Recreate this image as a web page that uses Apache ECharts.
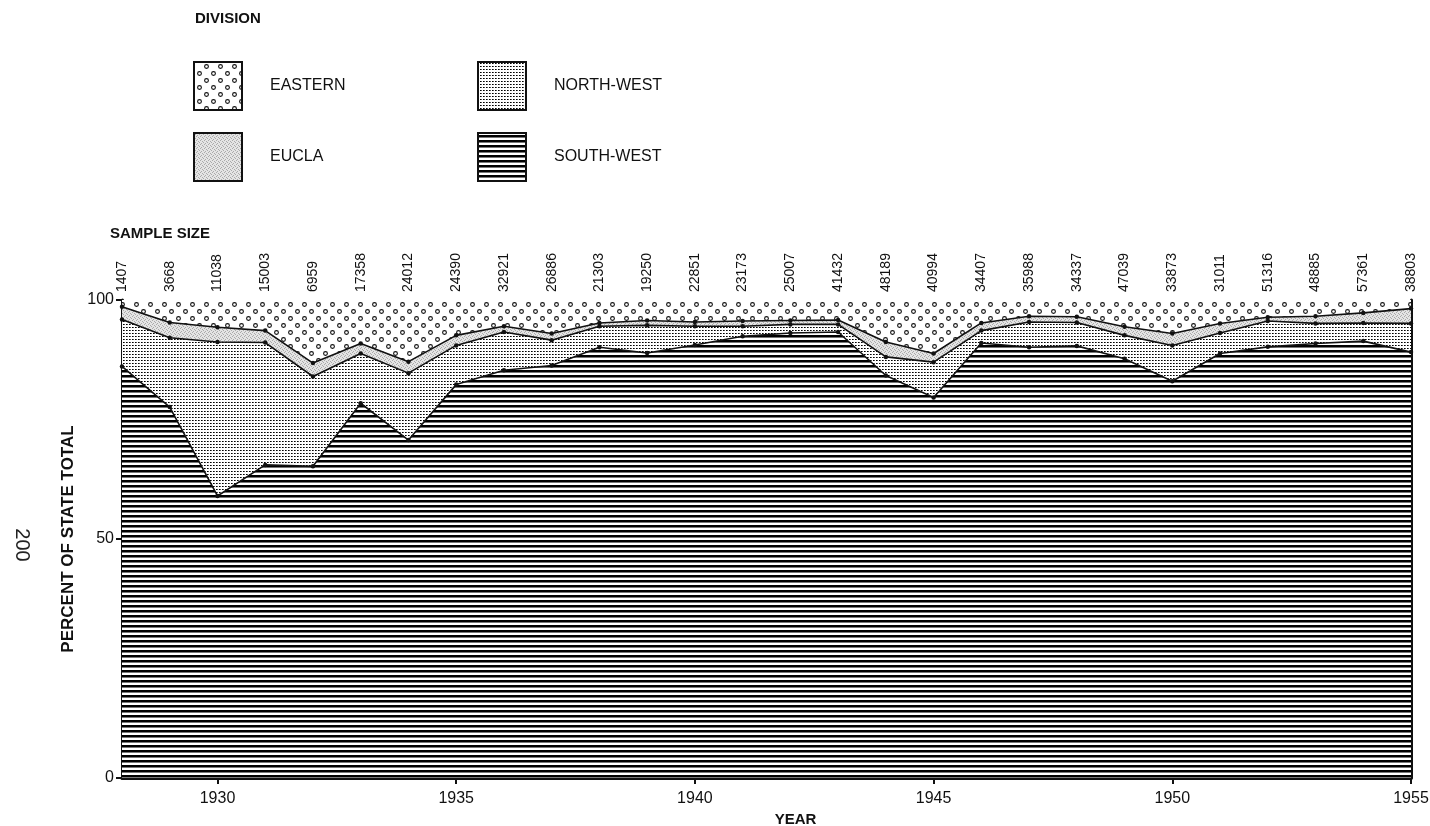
<!DOCTYPE html>
<html><head><meta charset="utf-8">
<script src="https://cdn.jsdelivr.net/npm/echarts@6/dist/echarts.min.js"></script>
<style>html,body{margin:0;padding:0;background:#fff}#c{width:1430px;height:826px}</style>
</head><body><div id="c"></div>
<script>
// ---------------- DATA ----------------
const years = ['1928','1929','1930','1931','1932','1933','1934','1935','1936','1937','1938','1939','1940','1941','1942','1943','1944','1945','1946','1947','1948','1949','1950','1951','1952','1953','1954','1955'];
const sampleSize = ['1407','3668','11038','15003','6959','17358','24012','24390','32921','26886','21303','19250','22851','23173','25007','41432','48189','40994','34407','35988','34337','47039','33873','31011','51316','48885','57361','38803'];
// percent of state total (stacked bottom to top)
const southWest = [86.1,77.6,59.0,65.5,65.2,78.4,70.7,82.3,85.3,86.3,90.1,88.9,90.6,92.4,93.1,93.3,84.2,79.6,91.0,90.1,90.4,87.7,83.0,88.8,90.2,90.9,91.4,89.1];
const northWest = [9.8,14.5,32.2,25.6,18.8,10.4,14.0,8.2,8.0,5.3,4.4,5.8,3.9,2.1,1.8,1.6,3.9,7.4,2.6,5.3,4.9,4.9,7.5,4.3,5.4,4.2,3.8,6.0];
const eucla = [2.7,3.2,3.1,2.5,2.8,2.1,2.4,2.1,1.2,1.4,0.7,1.0,0.9,1.1,0.8,0.9,3.1,1.8,1.6,1.2,1.2,1.8,2.5,2.0,0.8,1.5,2.1,3.1];
const eastern = [1.4,4.7,5.7,6.4,13.2,9.1,12.9,7.4,5.5,7.0,4.8,4.3,4.6,4.4,4.3,4.2,8.8,11.2,4.8,3.4,3.5,5.6,7.0,4.9,3.6,3.4,2.7,1.8];
const yTicks = [0, 50, 100];
const seriesNames = ['SOUTH-WEST','NORTH-WEST','EUCLA','EASTERN'];

// ---------------- PATTERNS ----------------
function makePattern(w, h, draw) {
  const c = document.createElement('canvas'); c.width = w; c.height = h;
  const g = c.getContext('2d'); g.fillStyle = '#fff'; g.fillRect(0, 0, w, h); draw(g);
  return { image: c, repeat: 'repeat' };
}
const patSW = makePattern(8, 5, g => { g.fillStyle = '#000'; g.fillRect(0, 0, 8, 2); g.fillStyle = '#777'; g.fillRect(0, 2, 8, 1); });
const patNW = makePattern(6, 6, g => { g.fillStyle = '#000';
  g.fillRect(0, 0, 1, 1); g.fillRect(3, 0, 1, 1); g.fillRect(0, 3, 1, 1); g.fillRect(3, 3, 1, 1);
  g.fillStyle = '#555'; g.fillRect(1, 0, 1, 1); g.fillRect(4, 0, 1, 1); g.fillRect(1, 3, 1, 1); g.fillRect(4, 3, 1, 1); });
const patEu = makePattern(4, 4, g => { g.fillStyle = '#e4e4e4'; g.fillRect(0, 0, 4, 4); g.fillStyle = '#aaa';
  g.fillRect(0, 0, 1, 1); g.fillRect(2, 1, 1, 1); g.fillRect(1, 3, 1, 1); g.fillRect(3, 2, 1, 1); });
const patEa = makePattern(14, 14, g => { g.strokeStyle = '#111'; g.lineWidth = 1.1;
  g.beginPath(); g.arc(3.5, 3.5, 1.9, 0, Math.PI * 2); g.stroke();
  g.beginPath(); g.arc(10.5, 10.5, 1.9, 0, Math.PI * 2); g.stroke(); });
const patterns = [patSW, patNW, patEu, patEa];
const values = [southWest, northWest, eucla, eastern];

const FONT = "'Liberation Sans', Arial, sans-serif";

const series = seriesNames.map((name, i) => {
  const top = i === 3;
  return {
    name, type: 'line', stack: 'total', data: values[i], z: 10 - i,
    areaStyle: { color: patterns[i], opacity: 1 },
    lineStyle: { color: '#111', width: top ? 0 : 1.6 },
    itemStyle: { color: '#111' },
    symbol: top ? 'none' : 'circle', symbolSize: 4.5, showSymbol: !top,
    emphasis: { disabled: true }, silent: true
  };
});

const legendItems = [
  { name: 'EASTERN', pat: patEa, x: 194, y: 62 },
  { name: 'NORTH-WEST', pat: patNW, x: 478, y: 62 },
  { name: 'EUCLA', pat: patEu, x: 194, y: 133 },
  { name: 'SOUTH-WEST', pat: patSW, x: 478, y: 133 }
];
const graphic = [
  { type: 'text', left: 195, top: 11, style: { text: 'DIVISION', font: 'bold 15px ' + FONT, fill: '#111' } },
  { type: 'text', left: 110, top: 226, style: { text: 'SAMPLE SIZE', font: 'bold 15px ' + FONT, fill: '#111' } },
  { type: 'text', x: 22, y: 545, rotation: -Math.PI / 2,
    style: { text: '200', font: '20px ' + FONT, fill: '#222', align: 'center', verticalAlign: 'middle', textAlign: 'center', textVerticalAlign: 'middle' } }
];
legendItems.forEach(it => {
  graphic.push({ type: 'rect', shape: { x: it.x, y: it.y, width: 48, height: 48 },
    style: { fill: it.pat, stroke: '#111', lineWidth: 2 } });
  graphic.push({ type: 'text', x: it.x + 76, y: it.y + 24,
    style: { text: it.name, font: '16px ' + FONT, fill: '#111', align: 'left', verticalAlign: 'middle', textAlign: 'left', textVerticalAlign: 'middle' } });
});

const every5 = (idx) => Number(years[idx]) % 5 === 0;

const option = {
  animation: false,
  backgroundColor: '#fff',
  grid: { left: 122, right: 19, top: 300, bottom: 48, containLabel: false, outerBoundsMode: 'none' },
  xAxis: [
    { type: 'category', data: years, boundaryGap: false, position: 'bottom',
      axisLine: { lineStyle: { color: '#111', width: 3 } },
      axisTick: { interval: every5, length: 6, lineStyle: { width: 2, color: '#111' } },
      axisLabel: { interval: every5, margin: 13, fontSize: 16, fontFamily: FONT, color: '#111' },
      name: 'YEAR', nameLocation: 'middle', nameGap: 29,
      nameTextStyle: { fontFamily: FONT, fontWeight: 'bold', fontSize: 15, color: '#111', padding: [0, 0, 0, 58] } },
    { type: 'category', data: sampleSize, boundaryGap: false, position: 'top',
      axisLine: { show: false }, axisTick: { show: false },
      axisLabel: { interval: 0, rotate: 90, margin: 8, fontSize: 14, fontFamily: FONT, color: '#111' } }
  ],
  yAxis: [
    { type: 'value', min: 0, max: 100, interval: 50,
      axisLine: { show: true, lineStyle: { color: '#111', width: 3 } },
      axisTick: { show: true, length: 6, lineStyle: { width: 2, color: '#111' } },
      axisLabel: { margin: 8, fontSize: 16, fontFamily: FONT, color: '#111',
        formatter: v => yTicks.includes(v) ? String(v) : '' },
      splitLine: { show: false },
      name: 'PERCENT OF STATE TOTAL', nameLocation: 'middle', nameGap: 41, nameRotate: 90,
      nameTextStyle: { fontFamily: FONT, fontWeight: 'bold', fontSize: 17, color: '#111' } },
    { type: 'value', min: 0, max: 100, position: 'right',
      axisLine: { show: true, lineStyle: { color: '#111', width: 3 } },
      axisTick: { show: false }, axisLabel: { show: false }, splitLine: { show: false } }
  ],
  series,
  graphic
};
echarts.init(document.getElementById('c')).setOption(option);
</script></body></html>
